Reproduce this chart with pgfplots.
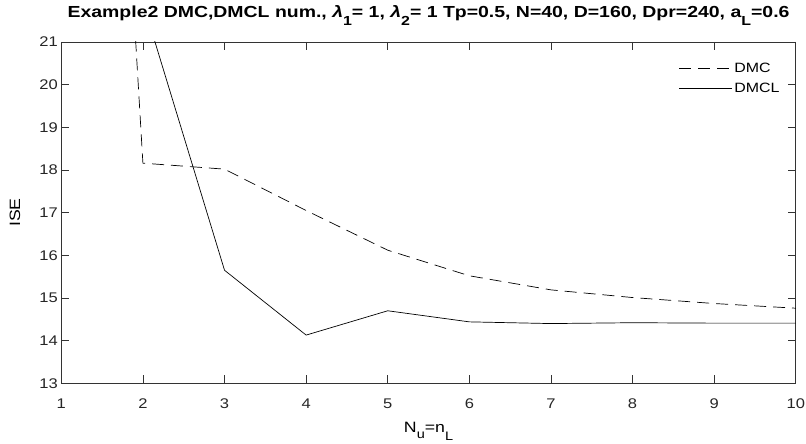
\documentclass[border=0pt]{standalone}
\usepackage{fontspec}
\setmainfont{Liberation Sans}[FakeStretch=1.18]
\usepackage{pgfplots}
\pgfplotsset{compat=1.18}
\newcommand\sub[2][0.82]{\raisebox{-0.92\height}{\scalebox{#1}{#2}}}
\begin{document}
\begin{tikzpicture}
\useasboundingbox (-61.3pt,-60.7pt) rectangle (744.7pt,383.3pt);
\begin{axis}[
  at={(0pt,0pt)}, anchor=south west,
  scale only axis, width=734.5pt, height=341.3pt,
  xmin=1, xmax=10, ymin=13, ymax=21,
  xtick={1,2,...,10}, ytick={13,14,...,21},
  tick align=inside, major tick length=8pt,
  axis line style={color=black!80, line width=0.6pt},
  tick style={color=black!80, line width=0.6pt},
  /pgf/number format/assume math mode=true,
  ticklabel style={font=\fontsize{14}{16}\selectfont, color=black!85},
  xticklabel style={yshift=-12pt},
  title={\scalebox{1.03}[1]{\fontsize{16}{18}\selectfont\bfseries Example2 DMC,DMCL num., \textit{λ}\sub{1}= 1, \textit{λ}\sub{2}= 1 Tp=0.5, N=40, D=160, Dpr=240, a\sub{L}=0.6}},
  title style={at={(axis description cs:0.5,1)}, anchor=base, yshift=18.5pt},
  xlabel={\fontsize{15}{17}\selectfont N\sub{u}=n\sub{L}},
  ylabel={\fontsize{15}{17}\selectfont ISE},
  xlabel style={at={(axis description cs:0.5,0)}, anchor=base, yshift=-49.5pt},
  ylabel style={at={(axis description cs:-0.063,0.5)}, anchor=center},
  legend style={at={(0.985,0.951)}, anchor=north east, draw=none, fill=none,
    font=\fontsize{13.5}{15}\selectfont, row sep=5pt},
  legend cell align=left,
  legend image code/.code={\draw[#1] (0pt,0pt) -- (53pt,0pt);},
]
\addplot[black, line width=0.7pt, dash pattern=on 12pt off 7pt] coordinates {
 (1,50.4) (2,18.16) (3,18.02) (4,17.05) (5,16.12) (6,15.52) (7,15.19) (8,15.01) (9,14.87) (10,14.76)};
\addlegendentry{DMC}
\addplot[black, line width=0.7pt] coordinates {
 (1,40) (2,21.93) (3,15.65) (4,14.13) (5,14.70) (6,14.44) (7,14.40) (8,14.42) (9,14.41) (10,14.41)};
\addlegendentry{DMCL}
\end{axis}
\end{tikzpicture}
\end{document}
